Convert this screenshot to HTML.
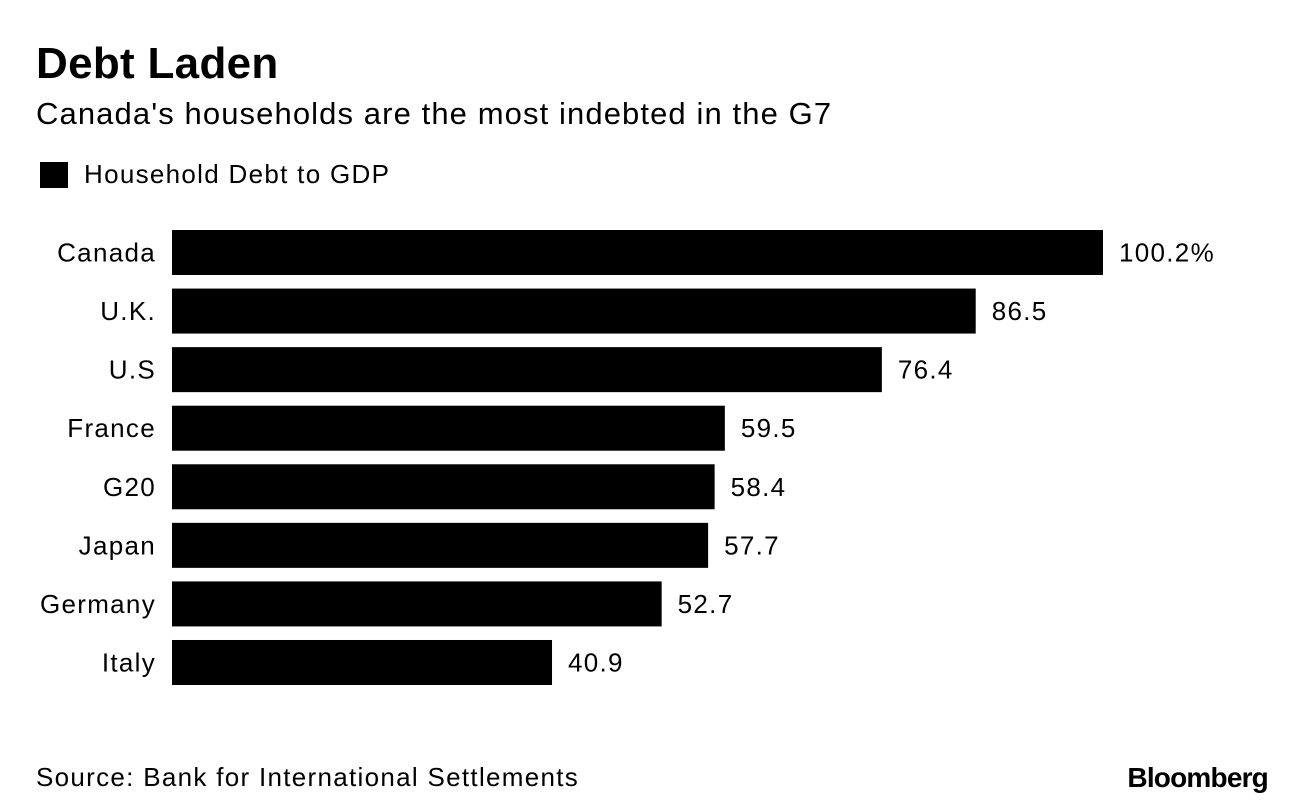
<!DOCTYPE html>
<html><head><meta charset="utf-8"><style>
body{margin:0;width:1296px;height:810px;background:#fff;font-family:"Liberation Sans",Arial,sans-serif;color:#000;position:relative;overflow:hidden}
.t{position:absolute;white-space:nowrap}
</style></head><body>
<div class="t" style="left:36px;top:39px;font-size:44px;font-weight:bold;letter-spacing:0.3px">Debt Laden</div>
<div class="t" style="left:36px;top:96px;font-size:31px;letter-spacing:1.1px">Canada's households are the most indebted in the G7</div>
<div class="t" style="left:40px;top:162px;width:28px;height:26px;background:#000"></div>
<div class="t" style="left:84px;top:159px;font-size:26px;letter-spacing:1.3px">Household Debt to GDP</div>
<svg id="chart" width="1296" height="810" style="position:absolute;left:0;top:0"></svg>
<div class="t" style="left:36px;top:762px;font-size:26px;letter-spacing:1.3px">Source: Bank for International Settlements</div>
<div class="t" style="right:28px;top:762px;font-size:28px;font-weight:bold;letter-spacing:-0.8px">Bloomberg</div>
<script>
const categories=["Canada","U.K.","U.S","France","G20","Japan","Germany","Italy"];
const values=[100.2,86.5,76.4,59.5,58.4,57.7,52.7,40.9];
const valueLabels=["100.2%","86.5","76.4","59.5","58.4","57.7","52.7","40.9"];
const svg=document.getElementById('chart');
const NS='http://www.w3.org/2000/svg';
const x0=172,scale=931/100.2,y0=230,step=58.57,bh=45;
const xs=v=>x0+v*scale;
const ys=i=>y0+i*step;
categories.forEach((c,i)=>{
  const r=document.createElementNS(NS,'rect');
  r.setAttribute('x',x0);r.setAttribute('y',ys(i));
  r.setAttribute('width',xs(values[i])-x0);r.setAttribute('height',bh);
  r.setAttribute('fill','#000');
  
  
  svg.appendChild(r);
  const l=document.createElementNS(NS,'text');
  l.setAttribute('x',156);l.setAttribute('y',ys(i)+bh/2+9);
  l.setAttribute('text-anchor','end');l.setAttribute('font-size','26');
  l.setAttribute('letter-spacing','1.3');
  l.setAttribute('font-family','Liberation Sans, Arial, sans-serif');
  l.textContent=c;
  
  
  svg.appendChild(l);
  const v=document.createElementNS(NS,'text');
  v.setAttribute('x',xs(values[i])+16);v.setAttribute('y',ys(i)+bh/2+9);
  v.setAttribute('font-size','26');
  v.setAttribute('letter-spacing','1.3');
  v.setAttribute('font-family','Liberation Sans, Arial, sans-serif');
  v.textContent=valueLabels[i];
  
  
  svg.appendChild(v);
});
</script>
</body></html>
